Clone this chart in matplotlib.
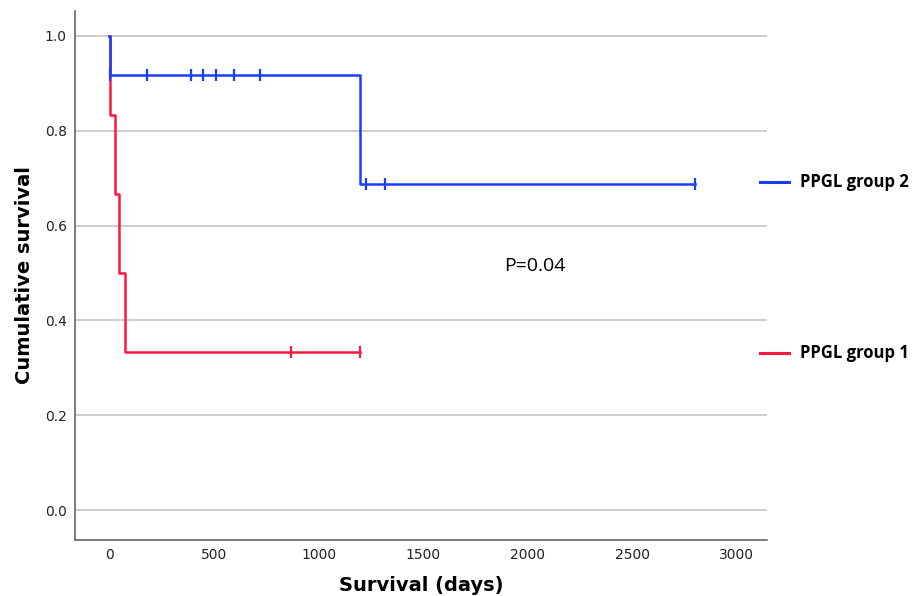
"""Curvas de Kaplan-Meier — PPGL grupo 1 vs grupo 2."""
import matplotlib
matplotlib.use('Agg')
import matplotlib.pyplot as plt
import numpy as np
from matplotlib.lines import Line2D

# ── Dados (tempo em dias, 1 = óbito, 0 = censura) ─────────────────────────

g2_tempo = [2, 4, 179, 389, 449, 508, 597, 720, 1200, 1228, 1318, 2800]
g2_evento = [1, 0, 0, 0, 0, 0, 0, 0, 1, 0, 0, 0]

g1_tempo = [2, 27, 46, 75, 868, 1200]
g1_evento = [1, 1, 1, 1, 0, 0]

grupos = ['PPGL group 1', 'PPGL group 2']
cores = ['#ff1744', '#1a3cff']
xticks = [0, 500, 1000, 1500, 2000, 2500, 3000]
yticks = [0.0, 0.2, 0.4, 0.6, 0.8, 1.0]
p_valor = 'P=0.04'

narrow = ['DejaVu Sans']


def kaplan_meier(tempo, evento):
    t = np.asarray(tempo, float)
    e = np.asarray(evento, int)
    ordem = np.argsort(t, kind='stable')
    t, e = t[ordem], e[ordem]
    n = len(t)
    xs, ys = [0.0], [1.0]
    cx, cy = [], []
    s = 1.0
    for i, (ti, ei) in enumerate(zip(t, e)):
        risco = n - i
        if ei:
            xs.append(ti)
            ys.append(s)
            s *= (1 - 1 / risco)
            xs.append(ti)
            ys.append(s)
        else:
            cx.append(ti)
            cy.append(s)
    xs.append(t.max())
    ys.append(s)
    return xs, ys, cx, cy


fig = plt.figure(figsize=(9.15, 5.96), dpi=100)
ax = fig.add_axes([0.082, 0.094, 0.756, 0.888])

for tempo, evento, cor in [(g1_tempo, g1_evento, cores[0]),
                           (g2_tempo, g2_evento, cores[1])]:
    xs, ys, cx, cy = kaplan_meier(tempo, evento)
    ax.plot(xs, ys, color=cor, lw=1.8, zorder=3)
    ax.plot(cx, cy, ls='none', marker='|', ms=8, mew=1.6, color=cor, zorder=4)

ax.set_xlim(-164, 3143)
ax.set_ylim(-0.063, 1.053)
ax.set_xticks(xticks)
ax.set_yticks(yticks)
ax.set_xticklabels([str(v) for v in xticks], family=narrow, fontsize=10,
                   color='#222222')
ax.set_yticklabels([f'{v:.1f}' for v in yticks], family=narrow, fontsize=10,
                   color='#222222')
ax.tick_params(axis='x', length=0, pad=6)
ax.tick_params(axis='y', length=0, pad=6)
ax.grid(axis='y', color='#c4c4c4', lw=1.2)
ax.set_axisbelow(True)
for lado in ['top', 'right']:
    ax.spines[lado].set_visible(False)
for lado in ['left', 'bottom']:
    ax.spines[lado].set_color('#666666')
    ax.spines[lado].set_linewidth(1.2)

ax.set_xlabel('Survival (days)', family=narrow, fontsize=14,
              fontweight='bold', labelpad=10)
ax.set_ylabel('Cumulative survival', family=narrow, fontsize=14,
              fontweight='bold', labelpad=8)

ax.text(2035, 0.514, p_valor, fontsize=14, ha='center', va='center',
        family='Open Sans')

# Legenda manual (itens separados, como no SPSS)
for nome, cor, y in [(grupos[1], cores[1], 1 - 182 / 596),
                     (grupos[0], cores[0], 1 - 353 / 596)]:
    fig.add_artist(Line2D([760 / 915, 789 / 915], [y, y], color=cor, lw=2.2))
    fig.text(800 / 915, y, nome, fontsize=12, fontweight='bold',
             va='center', ha='left', family='Open Sans')

plt.savefig('out.png', dpi=100)
plt.close()
